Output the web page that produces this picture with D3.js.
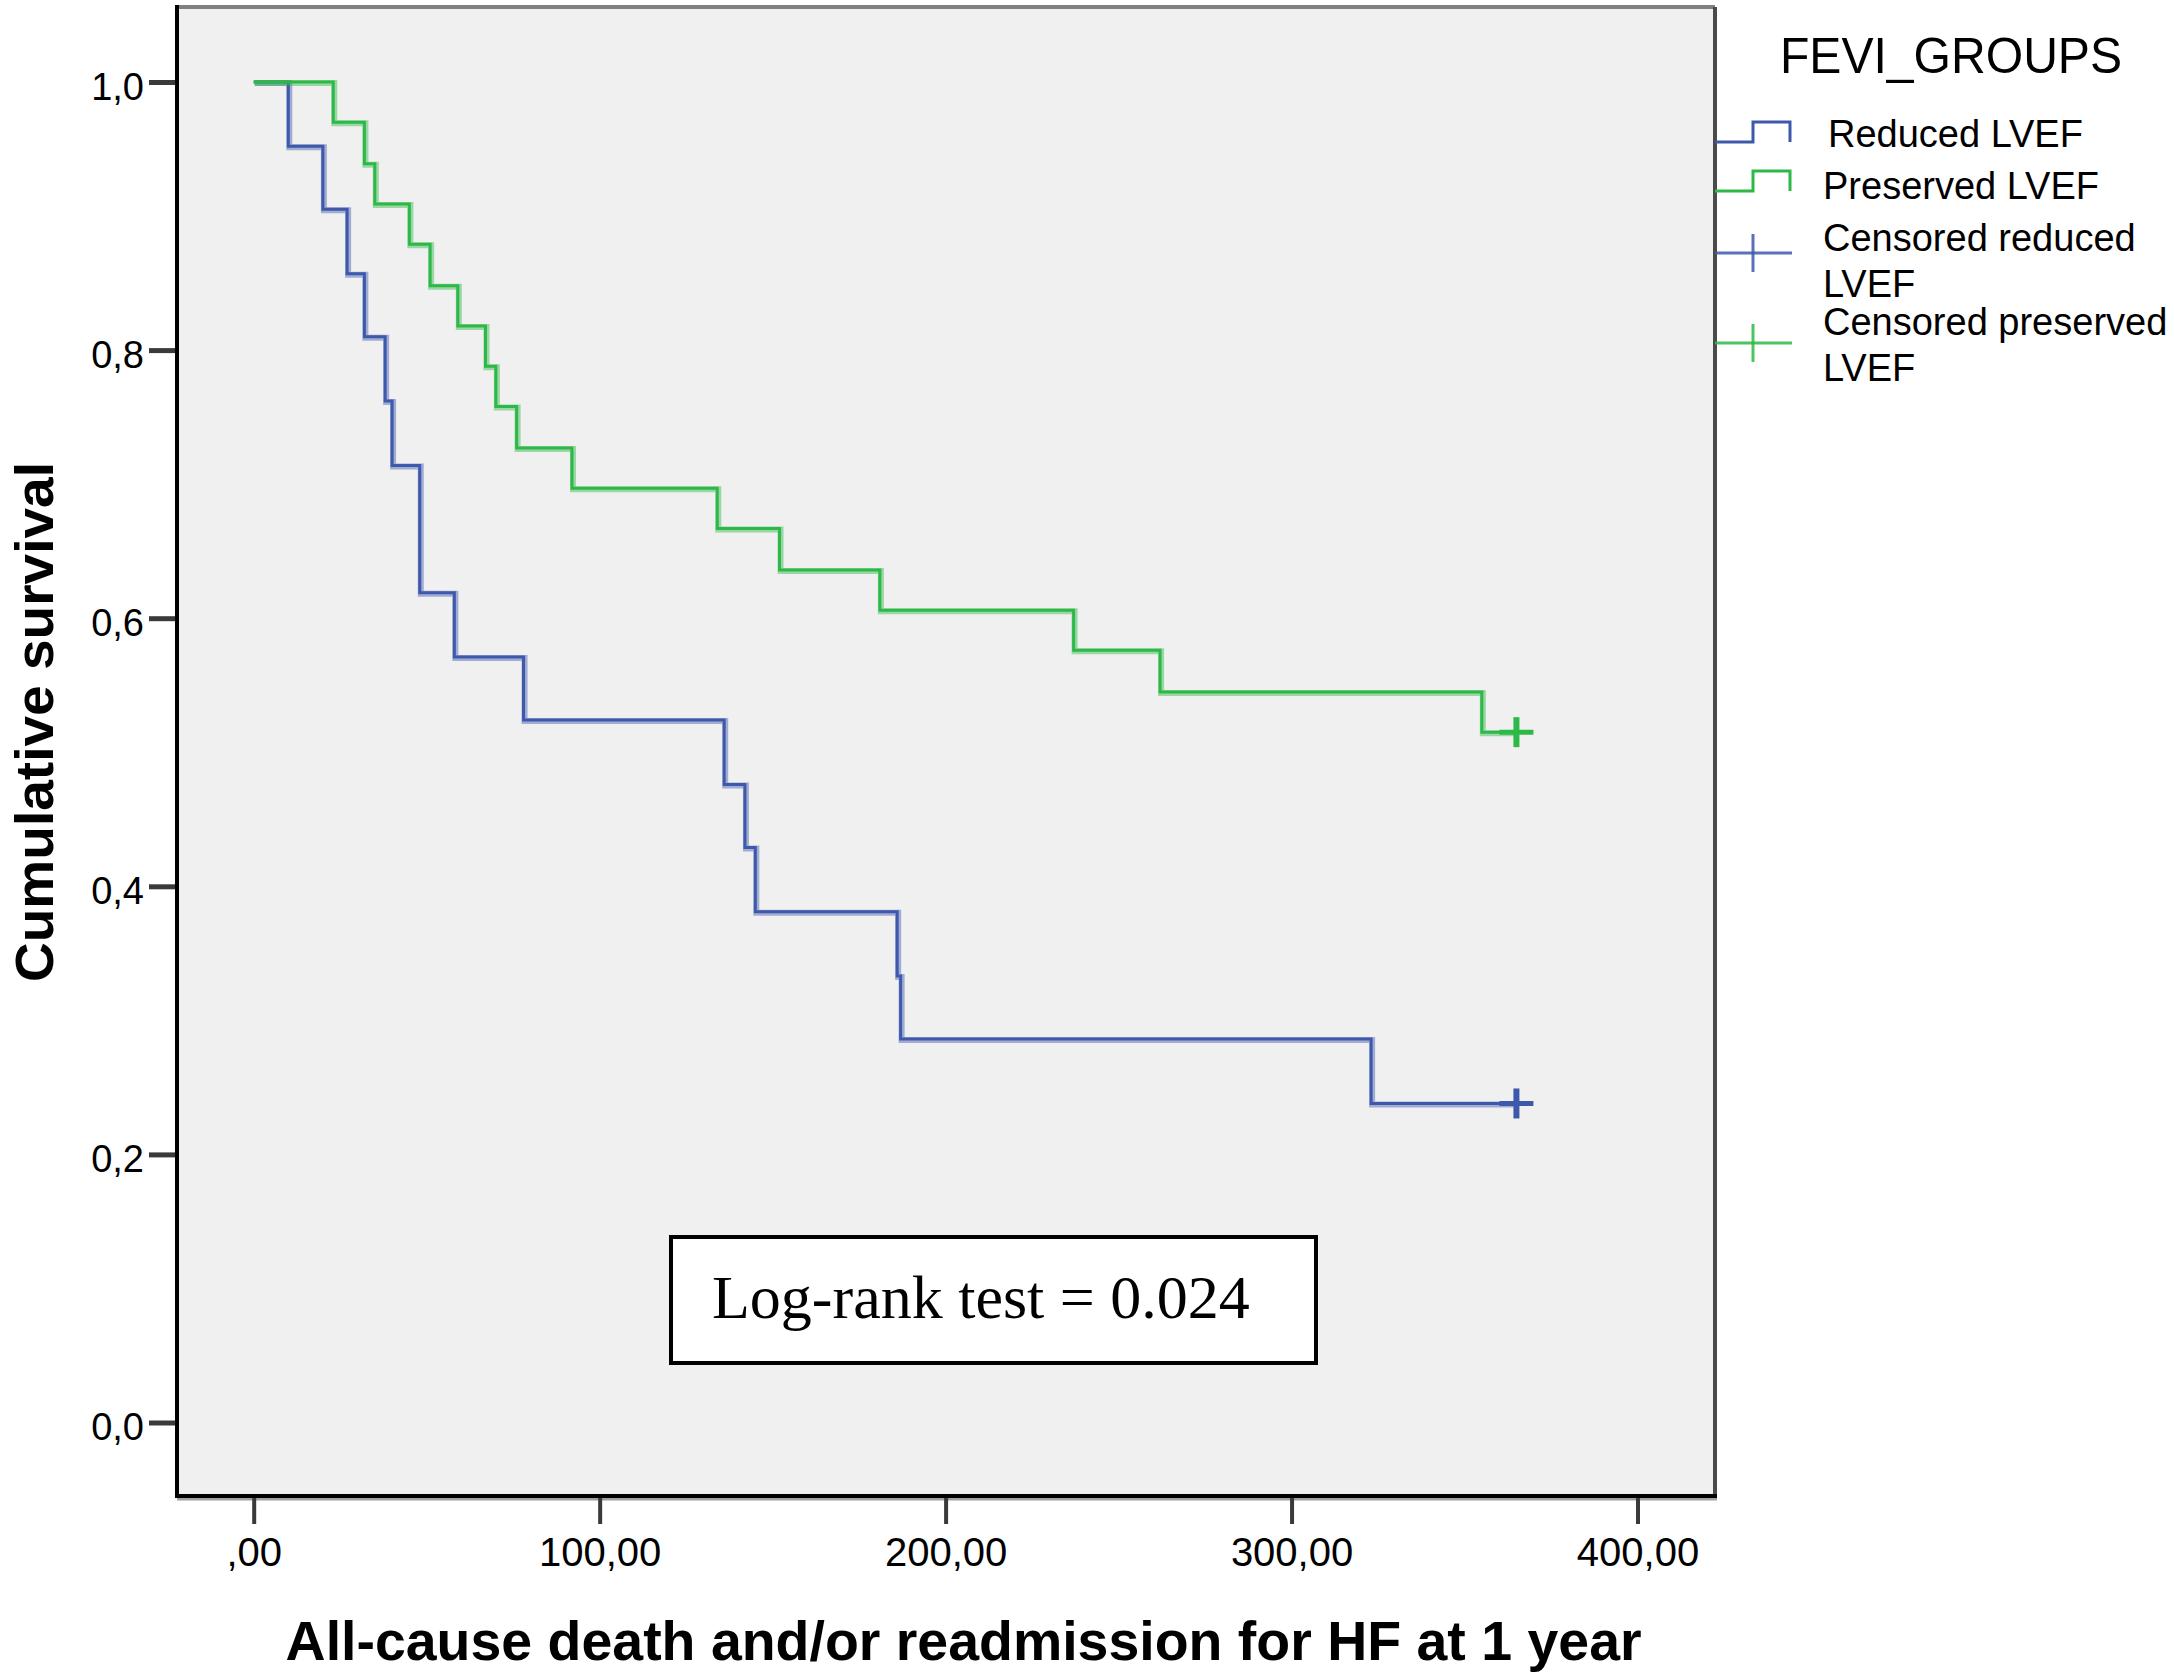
<!DOCTYPE html>
<html>
<head>
<meta charset="utf-8">
<script src="https://cdn.jsdelivr.net/npm/d3@7"></script>
<style>
  body { margin: 0; background: #ffffff; }
  svg { display: block; }
</style>
</head>
<body>
<svg id="chart" width="2174" height="1676"></svg>
<script>
// Kaplan-Meier data (time in days, cumulative survival)
const reducedTime = [0, 10, 20, 27, 32, 38, 40, 48, 58, 78, 136, 142, 145, 186, 187, 323];
const reducedSurv = [1.0, 0.952, 0.905, 0.857, 0.810, 0.762, 0.714, 0.619, 0.571, 0.524, 0.476, 0.429, 0.381, 0.333, 0.286, 0.238];
const reducedCensor = [365];

const preservedTime = [0, 23, 32, 35, 45, 51, 59, 67, 70, 76, 92, 134, 152, 181, 237, 262, 355];
const preservedSurv = [1.0, 0.970, 0.939, 0.909, 0.879, 0.848, 0.818, 0.788, 0.758, 0.727, 0.697, 0.667, 0.636, 0.606, 0.576, 0.545, 0.515];
const preservedCensor = [365];

const xTicks = [0, 100, 200, 300, 400];
const xTickLabels = [",00", "100,00", "200,00", "300,00", "400,00"];
const yTicks = [0, 0.2, 0.4, 0.6, 0.8, 1.0];
const yTickLabels = ["0,0", "0,2", "0,4", "0,6", "0,8", "1,0"];

const legendLabels = ["Reduced LVEF", "Preserved LVEF", "Censored reduced", "Censored preserved"];

const BLUE = "#3e58ac";
const GREEN = "#2eb848";
const SANS = "'Liberation Sans', Arial, Helvetica, sans-serif";

const frame = { left: 177, right: 1715, top: 7, bottom: 1496 };

const svg = d3.select("#chart");

const x = d3.scaleLinear().domain([0, 400]).range([253.7, 1637.5]);
const y = d3.scaleLinear().domain([0, 1]).range([1422.5, 82]);

// Plot background
svg.append("rect")
  .attr("x", frame.left)
  .attr("y", frame.top)
  .attr("width", frame.right - frame.left)
  .attr("height", frame.bottom - frame.top)
  .attr("fill", "#f0f0f0");

// Frame: grey top/right, black left/bottom
svg.append("line")
  .attr("x1", frame.left).attr("x2", frame.right)
  .attr("y1", frame.top).attr("y2", frame.top)
  .attr("stroke", "#808080").attr("stroke-width", 4);
svg.append("line")
  .attr("x1", frame.right).attr("x2", frame.right)
  .attr("y1", frame.top).attr("y2", frame.bottom)
  .attr("stroke", "#4a4a4a").attr("stroke-width", 4);
svg.append("line")
  .attr("x1", frame.left).attr("x2", frame.right + 2)
  .attr("y1", frame.bottom + 3).attr("y2", frame.bottom + 3)
  .attr("stroke", "#a0a0a0").attr("stroke-width", 3);
svg.append("line")
  .attr("x1", frame.left).attr("x2", frame.right + 2)
  .attr("y1", frame.bottom).attr("y2", frame.bottom)
  .attr("stroke", "#000").attr("stroke-width", 4);
svg.append("line")
  .attr("x1", frame.left).attr("x2", frame.left)
  .attr("y1", frame.top - 2).attr("y2", frame.bottom + 2)
  .attr("stroke", "#000").attr("stroke-width", 4);

// Y-axis
const yAxis = svg.append("g")
  .attr("transform", `translate(${frame.left - 2},0)`)
  .call(d3.axisLeft(y)
    .tickValues(yTicks)
    .tickFormat((d, i) => yTickLabels[i])
    .tickSize(26)
    .tickPadding(5));
yAxis.select(".domain").remove();
yAxis.selectAll(".tick line").attr("stroke", "#3a3a3a").attr("stroke-width", 5);
yAxis.selectAll(".tick text")
  .attr("dy", "0.46em")
  .style("font-family", SANS)
  .style("font-size", "38px")
  .attr("fill", "#000");

// X-axis
const xAxis = svg.append("g")
  .attr("transform", `translate(0,${frame.bottom + 2})`)
  .call(d3.axisBottom(x)
    .tickValues(xTicks)
    .tickFormat((d, i) => xTickLabels[i])
    .tickSize(26)
    .tickPadding(14));
xAxis.select(".domain").remove();
xAxis.selectAll(".tick line").attr("stroke", "#3a3a3a").attr("stroke-width", 4);
xAxis.selectAll(".tick text")
  .style("font-family", SANS)
  .style("font-size", "40px")
  .attr("fill", "#000");

// Axis titles
svg.append("text")
  .attr("x", 963.6)
  .attr("y", 1660)
  .attr("text-anchor", "middle")
  .attr("textLength", 1356)
  .attr("lengthAdjust", "spacingAndGlyphs")
  .style("font-family", SANS)
  .style("font-size", "55px")
  .style("font-weight", "bold")
  .text("All-cause death and/or readmission for HF at 1 year");

svg.append("text")
  .attr("transform", "translate(53,722)rotate(-90)")
  .attr("text-anchor", "middle")
  .attr("textLength", 520)
  .attr("lengthAdjust", "spacingAndGlyphs")
  .style("font-family", SANS)
  .style("font-size", "53px")
  .style("font-weight", "bold")
  .text("Cumulative survival");

// Survival curves
const line = d3.line()
  .x((d) => x(d[0]))
  .y((d) => y(d[1]))
  .curve(d3.curveStepAfter);

const series = [
  { time: reducedTime, surv: reducedSurv, censor: reducedCensor, color: BLUE },
  { time: preservedTime, surv: preservedSurv, censor: preservedCensor, color: GREEN },
];

series.forEach((s) => {
  const pts = s.time.map((t, i) => [t, s.surv[i]]);
  pts.push([d3.max(s.censor), s.surv[s.surv.length - 1]]);

  // soft halo like the SPSS rendering
  svg.append("path")
    .datum(pts)
    .attr("d", line)
    .attr("fill", "none")
    .attr("stroke", s.color)
    .attr("stroke-opacity", 0.45)
    .attr("stroke-width", 6)
    .attr("transform", "translate(1,1)");

  svg.append("path")
    .datum(pts)
    .attr("d", line)
    .attr("fill", "none")
    .attr("stroke", s.color)
    .attr("stroke-width", 3);

  // censored marks
  const last = s.surv[s.surv.length - 1];
  s.censor.forEach((c) => {
    svg.append("line")
      .attr("x1", x(c) - 17).attr("x2", x(c) + 17)
      .attr("y1", y(last)).attr("y2", y(last))
      .attr("stroke", s.color).attr("stroke-width", 5);
    svg.append("line")
      .attr("x1", x(c)).attr("x2", x(c))
      .attr("y1", y(last) - 15).attr("y2", y(last) + 15)
      .attr("stroke", s.color).attr("stroke-width", 6);
  });
});

// Log-rank annotation
svg.append("rect")
  .attr("x", 671).attr("y", 1237)
  .attr("width", 645).attr("height", 126)
  .attr("fill", "#fff")
  .attr("stroke", "#000")
  .attr("stroke-width", 4);
svg.append("text")
  .attr("x", 712)
  .attr("y", 1318)
  .style("font-family", "'Liberation Serif', 'Times New Roman', serif")
  .style("font-size", "62px")
  .text("Log-rank test = 0.024");

// Legend
const legend = svg.append("g");
legend.append("text")
  .attr("x", 1780).attr("y", 73)
  .attr("textLength", 342)
  .attr("lengthAdjust", "spacingAndGlyphs")
  .style("font-family", SANS)
  .style("font-size", "50px")
  .text("FEVI_GROUPS");

const stepSym = (yb, color) => {
  legend.append("path")
    .attr("d", `M1715,${yb}H1753V${yb - 20}H1790V${yb}`)
    .attr("fill", "none")
    .attr("stroke", color)
    .attr("stroke-width", 3);
};
const crossSym = (yc, color) => {
  legend.append("line")
    .attr("x1", 1715).attr("x2", 1792)
    .attr("y1", yc).attr("y2", yc)
    .attr("stroke", color).attr("stroke-width", 3).attr("stroke-opacity", 0.85);
  legend.append("line")
    .attr("x1", 1753).attr("x2", 1753)
    .attr("y1", yc - 19).attr("y2", yc + 19)
    .attr("stroke", color).attr("stroke-width", 3).attr("stroke-opacity", 0.85);
};
stepSym(142, BLUE);
stepSym(191, GREEN);
crossSym(253, BLUE);
crossSym(343, GREEN);

const legendText = [
  { t: legendLabels[0], x: 1828, y: 147 },
  { t: legendLabels[1], x: 1823, y: 199 },
  { t: legendLabels[2], x: 1823, y: 251 },
  { t: "LVEF", x: 1823, y: 297 },
  { t: legendLabels[3], x: 1823, y: 335 },
  { t: "LVEF", x: 1823, y: 381 },
];
legend.selectAll("text.item")
  .data(legendText)
  .enter()
  .append("text")
  .attr("class", "item")
  .attr("x", (d) => d.x)
  .attr("y", (d) => d.y)
  .style("font-family", SANS)
  .style("font-size", "38px")
  .text((d) => d.t);
</script>
</body>
</html>
